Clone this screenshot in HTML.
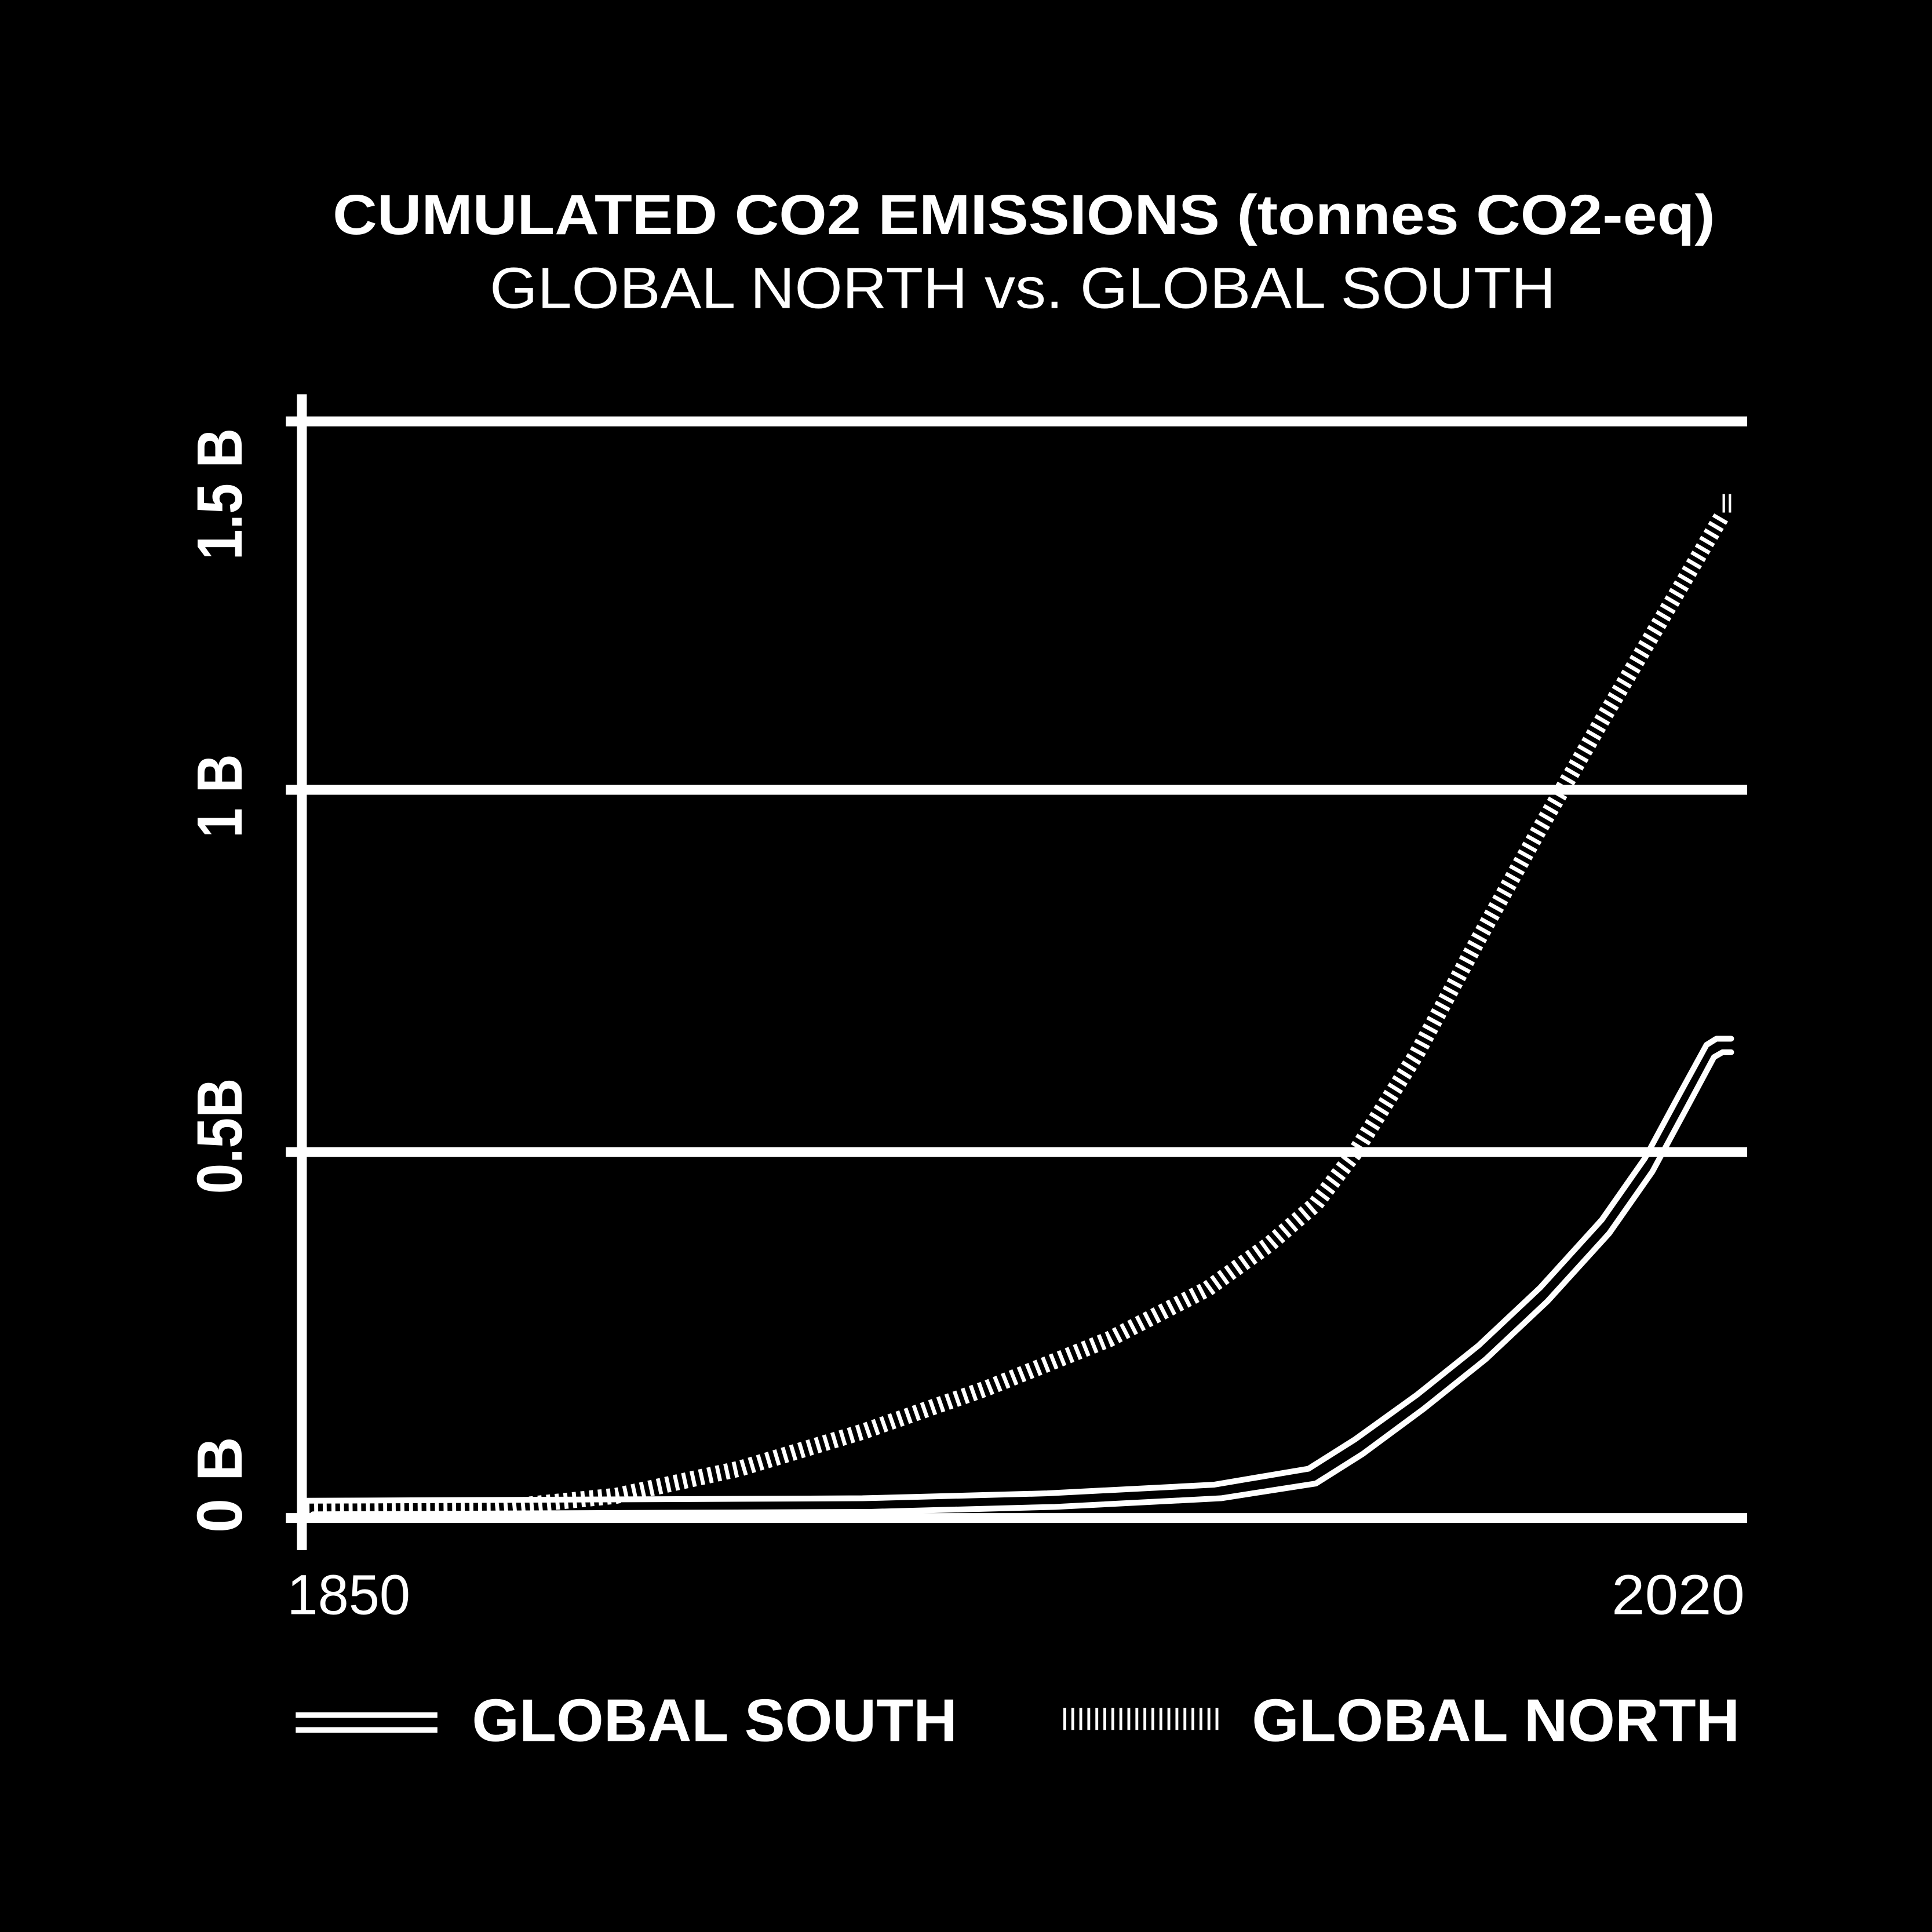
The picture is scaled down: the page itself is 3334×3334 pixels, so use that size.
<!DOCTYPE html>
<html><head><meta charset="utf-8"><style>html,body{margin:0;padding:0;background:#000}svg{display:block}</style></head>
<body>
<svg xmlns="http://www.w3.org/2000/svg" width="3334" height="3334" viewBox="0 0 1568 1568">
<rect width="1568" height="1568" fill="#000"/>
<g font-family="Liberation Sans, Arial, sans-serif" fill="#fff">
<text x="831" y="190" font-size="46" font-weight="bold" text-anchor="middle" textLength="1122" lengthAdjust="spacingAndGlyphs">CUMULATED CO2 EMISSIONS (tonnes CO2-eq)</text>
<text x="830" y="250" font-size="47" text-anchor="middle" textLength="865" lengthAdjust="spacingAndGlyphs">GLOBAL NORTH vs. GLOBAL SOUTH</text>
<text transform="translate(196,401) rotate(-90)" font-size="52" font-weight="bold" text-anchor="middle" textLength="107" lengthAdjust="spacingAndGlyphs">1.5 B</text>
<text transform="translate(196,646) rotate(-90)" font-size="52" font-weight="bold" text-anchor="middle" textLength="68" lengthAdjust="spacingAndGlyphs">1 B</text>
<text transform="translate(196,922) rotate(-90)" font-size="52" font-weight="bold" text-anchor="middle" textLength="94" lengthAdjust="spacingAndGlyphs">0.5B</text>
<text transform="translate(196,1205) rotate(-90)" font-size="52" font-weight="bold" text-anchor="middle" textLength="78" lengthAdjust="spacingAndGlyphs">0 B</text>
<text x="233" y="1310" font-size="46" textLength="100" lengthAdjust="spacingAndGlyphs">1850</text>
<text x="1308" y="1310" font-size="46" textLength="108" lengthAdjust="spacingAndGlyphs">2020</text>
<text x="383" y="1413" font-size="49" font-weight="bold" textLength="394" lengthAdjust="spacingAndGlyphs">GLOBAL SOUTH</text>
<text x="1016" y="1413" font-size="49" font-weight="bold" textLength="396" lengthAdjust="spacingAndGlyphs">GLOBAL NORTH</text>
</g>
<g stroke="#fff" stroke-width="8" fill="none">
<line x1="232" y1="342" x2="1418" y2="342"/>
<line x1="232" y1="641" x2="1418" y2="641"/>
<line x1="232" y1="935" x2="1418" y2="935"/>
<line x1="232" y1="1232" x2="1418" y2="1232"/>
<line x1="245" y1="320" x2="245" y2="1258"/>
</g>
<g fill="none" stroke="#fff" stroke-linejoin="round" stroke-linecap="round">
<polyline stroke-width="4.7" points="248,1218 700,1216 850,1212 985,1205 1062,1192 1100,1168 1150,1132 1200,1092 1250,1045 1300,990 1335,940 1362,890 1385,848 1393,843 1405,843"/>
<polyline stroke-width="4.7" points="254,1229 706,1227 856,1223 991,1216 1068,1204 1106,1180 1156,1143 1206,1103 1256,1056 1306,1001 1341,951 1368,901 1391,858 1398,854 1405,854"/>
</g>
<polyline fill="none" stroke="#fff" stroke-width="13" stroke-dasharray="3.2 3.8" points="248,1226 400,1224 500,1214 600,1192 700,1162 800,1127 900,1087 980,1046 1030,1010 1068,977 1100,935 1150,855 1200,762 1250,672 1300,585 1350,500 1398,418"/>
<g stroke="#fff" stroke-width="2">
<line x1="1399" y1="401" x2="1399" y2="416"/>
<line x1="1404" y1="401" x2="1404" y2="416"/>
</g>
<g stroke="#fff" stroke-width="4.5">
<line x1="240" y1="1392" x2="355" y2="1392"/>
<line x1="240" y1="1404" x2="355" y2="1404"/>
</g>
<line x1="863" y1="1395" x2="992" y2="1395" stroke="#fff" stroke-width="18" stroke-dasharray="2.3 4.2"/>
</svg>
</body></html>
